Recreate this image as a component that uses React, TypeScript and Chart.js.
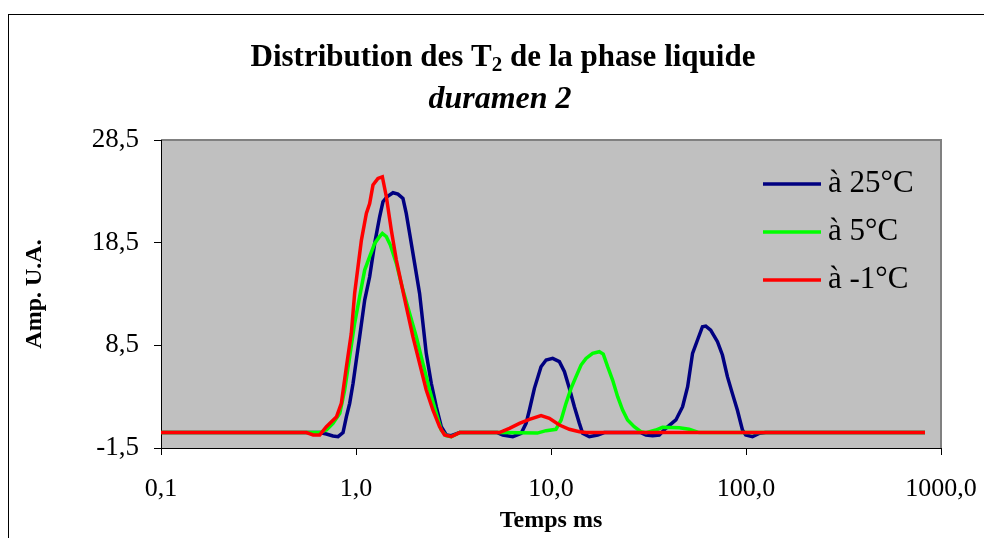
import React, { useEffect, useRef } from "react";
import { Chart, registerables } from "chart.js";

Chart.register(...registerables);

const FONT = '"Liberation Serif", "Times New Roman", serif';

const seriesLabels = ["à 25°C", "à 5°C", "à -1°C"];
const seriesColors = ["#000080", "#00FF00", "#FF0000"];

// [temps ms, amplitude]
const serie25: [number, number][] = [
  [0.1, 0], [0.3, 0], [0.65, 0], [0.705, -0.14], [0.762, -0.33], [0.809, -0.4], [0.858, 0],
  [0.893, 1.55], [0.928, 2.85], [0.966, 4.8], [1.004, 7.07], [1.044, 9.34], [1.108, 12.91],
  [1.175, 15.18], [1.247, 18.43], [1.322, 21.02], [1.375, 22.49], [1.442, 22.97], [1.548, 23.36],
  [1.641, 23.23], [1.741, 22.81], [1.81, 21.35], [1.884, 19.4], [1.998, 16.48], [2.119, 13.56],
  [2.204, 10.64], [2.292, 7.72], [2.432, 4.8], [2.58, 2.52], [2.737, 0.58], [2.904, -0.23],
  [3.08, -0.3], [3.4, 0], [4.3, 0], [5.3, 0], [5.66, -0.23], [6.37, -0.4], [7.03, -0.07],
  [7.45, 0.9], [7.75, 2.2], [8.22, 4.31], [8.89, 6.42], [9.44, 7.07], [10.2, 7.23], [11.04, 6.91],
  [11.72, 5.93], [12.42, 4.31], [13.18, 2.52], [13.98, 0.9], [14.53, -0.07], [15.72, -0.4],
  [17.35, -0.23], [18.76, 0], [25, 0], [28.9, 0], [30.7, -0.23], [33.2, -0.3], [35.9, -0.23],
  [38.8, 0.42], [43.7, 1.23], [47.3, 2.52], [50.2, 4.47], [53.2, 7.72], [56.4, 9.02],
  [59.8, 10.31], [62.2, 10.38], [65.9, 9.99], [71.4, 8.85], [75.7, 7.56], [80.3, 5.45],
  [85.1, 3.82], [90.3, 2.2], [95.9, 0.25], [99.7, -0.23], [107.9, -0.4], [116.7, -0.07],
  [126.2, 0], [300, 0], [828, 0],
];

const serie5: [number, number][] = [
  [0.1, 0], [0.3, 0], [0.65, 0], [0.705, 0.25], [0.762, 0.9], [0.826, 1.88], [0.875, 4.15],
  [0.928, 7.39], [0.984, 10.64], [1.044, 13.24], [1.108, 15.83], [1.175, 17.13], [1.247, 18.43],
  [1.312, 19.01], [1.365, 19.4], [1.431, 19.08], [1.5, 18.27], [1.61, 16.48], [1.741, 13.88],
  [1.884, 11.61], [2.038, 9.34], [2.204, 6.74], [2.385, 4.15], [2.58, 1.88], [2.737, 0.25],
  [2.9, -0.3], [3.08, -0.4], [3.4, 0], [5.4, 0], [8.5, -0.05], [9.44, 0.19], [10.6, 0.32],
  [11.27, 1.23], [11.94, 2.85], [12.67, 4.31], [13.44, 5.45], [14.26, 6.58], [15.12, 7.23],
  [16.35, 7.72], [17.69, 7.88], [18.54, 7.65], [19.52, 6.42], [20.7, 5.12], [21.97, 3.5],
  [23.3, 2.2], [24.7, 1.23], [26.7, 0.58], [28.9, 0.09], [30.7, 0], [34.5, 0.25], [37.3, 0.51],
  [45.5, 0.48], [51.1, 0.32], [57.5, 0], [300, 0], [828, 0],
];

const serieM1: [number, number][] = [
  [0.1, 0], [0.3, 0], [0.557, 0], [0.603, -0.23], [0.652, -0.23], [0.705, 0.58], [0.795, 1.55],
  [0.841, 2.85], [0.893, 6.42], [0.946, 9.67], [0.984, 13.56], [1.024, 16.16], [1.066, 18.75],
  [1.13, 21.35], [1.175, 22.32], [1.222, 24.11], [1.296, 24.76], [1.365, 24.92], [1.431, 22.97],
  [1.517, 19.73], [1.61, 16.81], [1.707, 14.53], [1.811, 12.26], [1.958, 9.34], [2.119, 6.74],
  [2.292, 4.15], [2.479, 2.2], [2.683, 0.58], [2.845, -0.23], [3.079, -0.4], [3.396, 0],
  [5.44, 0], [6.12, 0.42], [6.89, 0.9], [7.75, 1.29], [8.89, 1.65], [9.81, 1.39], [11.04, 0.74],
  [12.42, 0.32], [13.98, 0.09], [15.12, 0], [300, 0], [828, 0],
];

const xTicks = [0.1, 1, 10, 100, 1000];
const yTicks = [-1.5, 8.5, 18.5, 28.5];

const fmt = (v: number) => Number(v).toFixed(1).replace(".", ",");

const decorPlugin = {
  id: "decor",
  beforeDraw(chart: any) {
    const { ctx, chartArea: a } = chart;
    ctx.save();
    ctx.fillStyle = "#ffffff";
    ctx.fillRect(0, 0, chart.width, chart.height);
    ctx.strokeStyle = "#000000";
    ctx.lineWidth = 1;
    ctx.strokeRect(8.5, 14.5, 1200, 700);
    ctx.fillStyle = "#C0C0C0";
    ctx.fillRect(a.left, a.top, a.right - a.left, a.bottom - a.top);
    ctx.strokeStyle = "#808080";
    ctx.lineWidth = 2;
    ctx.beginPath();
    ctx.moveTo(a.left, a.top);
    ctx.lineTo(a.right, a.top);
    ctx.lineTo(a.right, a.bottom);
    ctx.stroke();

    // titles
    ctx.fillStyle = "#000";
    ctx.textBaseline = "alphabetic";
    const big = `bold 31px ${FONT}`;
    const small = `bold 21px ${FONT}`;
    const p1 = "Distribution des T";
    const p2 = "2";
    const p3 = " de la phase liquide";
    ctx.font = big;
    const w1 = ctx.measureText(p1).width;
    const w3 = ctx.measureText(p3).width;
    ctx.font = small;
    const w2 = ctx.measureText(p2).width;
    const total = w1 + w2 + w3;
    const cx = 503;
    let x = cx - total / 2;
    const by = 66;
    ctx.textAlign = "left";
    ctx.font = big;
    ctx.fillText(p1, x, by);
    x += w1;
    ctx.font = small;
    ctx.fillText(p2, x, by + 5);
    x += w2;
    ctx.font = big;
    ctx.fillText(p3, x, by);
    ctx.font = `italic bold 32px ${FONT}`;
    ctx.textAlign = "center";
    ctx.fillText("duramen 2", 500, 108);
    ctx.restore();
  },
  afterDraw(chart: any) {
    const { ctx, chartArea: a } = chart;
    ctx.save();
    chart.data.datasets.forEach((ds: any, i: number) => {
      const y = a.top + 44 + 48 * i;
      ctx.strokeStyle = ds.borderColor;
      ctx.lineWidth = 3.5;
      ctx.beginPath();
      ctx.moveTo(a.right - 178, y);
      ctx.lineTo(a.right - 120, y);
      ctx.stroke();
      ctx.fillStyle = "#000";
      ctx.font = `31px ${FONT}`;
      ctx.textAlign = "left";
      ctx.textBaseline = "middle";
      ctx.fillText(ds.label, a.right - 113, y);
    });
    ctx.restore();
  },
};

export default function App() {
  const ref = useRef<HTMLCanvasElement | null>(null);
  useEffect(() => {
    if (!ref.current) return;
    const series = [serie25, serie5, serieM1];
    const chart = new Chart(ref.current, {
      type: "scatter",
      data: {
        datasets: series.map((s, i) => ({
          label: seriesLabels[i],
          data: s.map(([x, y]) => ({ x, y })),
          borderColor: seriesColors[i],
          backgroundColor: seriesColors[i],
          borderWidth: 3.5,
          pointRadius: 0,
          showLine: true,
          tension: 0,
          order: 2 - i,
        })),
      },
      options: {
        responsive: false,
        animation: false,
        devicePixelRatio: 1,
        layout: { padding: { left: 20, top: 140, right: 43, bottom: 0 } },
        plugins: {
          legend: { display: false },
          title: { display: false },
          tooltip: { enabled: false },
        },
        scales: {
          x: {
            type: "logarithmic",
            min: 0.1,
            max: 1000,
            afterBuildTicks: (s: any) => {
              s.ticks = xTicks.map((v) => ({ value: v }));
            },
            afterFit: (s: any) => {
              s.height = 90;
              s.paddingLeft = 0;
              s.paddingRight = 0;
            },
            ticks: {
              callback: (v: any) => fmt(v),
              font: { family: FONT, size: 26 },
              color: "#000",
              padding: 19,
              maxRotation: 0,
              autoSkip: false,
            },
            grid: { drawOnChartArea: false, drawTicks: true, tickLength: 7, color: "#000", tickColor: "#000" },
            border: { color: "#000", width: 1 },
            title: {
              display: true,
              text: "Temps ms",
              color: "#000",
              font: { family: FONT, size: 24, weight: "bold" },
              padding: { top: 0, bottom: 3 },
            },
          },
          y: {
            min: -1.5,
            max: 28.5,
            afterBuildTicks: (s: any) => {
              s.ticks = yTicks.map((v) => ({ value: v }));
            },
            afterFit: (s: any) => {
              s.width = 141;
            },
            ticks: {
              callback: (v: any) => fmt(v),
              font: { family: FONT, size: 27 },
              color: "#000",
              padding: 15,
            },
            grid: { drawOnChartArea: false, drawTicks: true, tickLength: 7, color: "#000", tickColor: "#000" },
            border: { color: "#000", width: 1 },
            title: {
              display: true,
              text: "Amp. U.A.",
              color: "#000",
              font: { family: FONT, size: 24, weight: "bold" },
              padding: { top: 0, bottom: 0 },
            },
          },
        },
      },
      plugins: [decorPlugin],
    } as any);
    return () => chart.destroy();
  }, []);
  return (
    <div style={{ position: "absolute", left: 0, top: 0, width: 984, height: 538 }}>
      <canvas ref={ref} width={984} height={538} style={{ display: "block" }} />
    </div>
  );
}
